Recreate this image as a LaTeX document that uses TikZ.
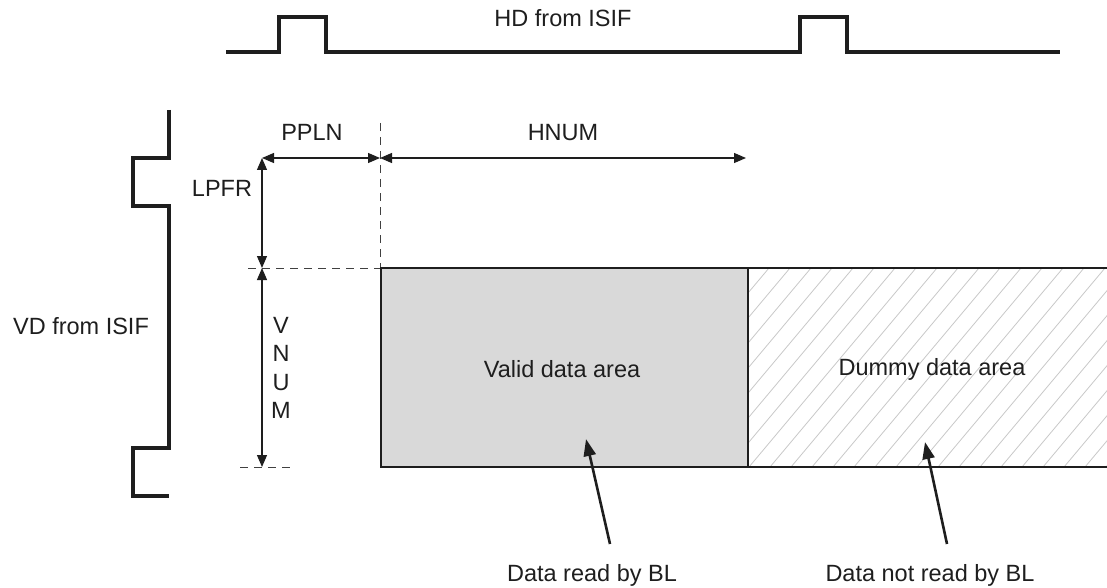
\documentclass[tikz,border=0pt]{standalone}
\usepackage{fontspec}
\setmainfont{Liberation Sans}
\usetikzlibrary{arrows.meta}
\definecolor{inkgray}{RGB}{30,30,30}
\definecolor{validgray}{RGB}{217,217,217}
\definecolor{hatchgray}{RGB}{200,200,200}
\tikzset{
  lbl/.style={font=\fontsize{23.5}{28.5}\selectfont, text=inkgray, inner sep=0pt, text height=16.8pt, text depth=0pt},
  stacklbl/.style={font=\fontsize{23.5}{28.3}\selectfont, text=inkgray, inner sep=0pt, align=center},
  sig/.style={line width=4.5pt, inkgray, line join=miter},
  dimline/.style={{Triangle[length=12pt,width=10pt]}-{Triangle[length=12pt,width=10pt]}, line width=1.2pt, inkgray},
  guide/.style={dash pattern=on 8pt off 6pt, line width=1pt, black!75},
  callout/.style={-{Triangle[length=17pt,width=12pt]}, line width=2.6pt, inkgray},
  area/.style={line width=2.6pt, inkgray},
  hatch/.style={line width=0.8pt, hatchgray}
}
\begin{document}
\begin{tikzpicture}[x=1pt,y=-1pt]
  \useasboundingbox (0,0) rectangle (1107,588);

  %--- HD from ISIF ---
  \draw[sig] (226,52) -- (279,52) -- (279,17) -- (326,17) -- (326,52) -- (800,52) -- (800,17) -- (847,17) -- (847,52) -- (1060,52);
  \node[lbl] (hdlbl) at (563,18) {HD from ISIF};

  %--- VD from ISIF ---
  \draw[sig] (169,110) -- (169,158) -- (133,158) -- (133,206) -- (169,206) -- (169,448) -- (133,448) -- (133,496) -- (169,496);
  \node[lbl] (vdlbl) at (81,326) {VD from ISIF};

  % Corner points of the frame
  \coordinate (corner) at (262,158);
  \coordinate (hstart) at (380,158);
  \coordinate (hend) at (746,158);
  \coordinate (vstart) at (262,268);
  \coordinate (vend) at (262,467);

  % Guide lines
  \draw[guide] (380,123) -- (380,268);
  \draw[guide] (248,268) -- (380,268);
  \draw[guide] (240,467) -- (290,467);

  % Dimensions
  \draw[dimline] (corner) -- (hstart);
  \draw[dimline] (hstart) -- (hend);
  \draw[dimline] (corner) -- (vstart);
  \draw[dimline] (vstart) -- (vend);
  \node[lbl] (ppln) at (312,132) {PPLN};
  \node[lbl] (hnum) at (563,132) {HNUM};
  \node[lbl] (lpfr) at (222,188) {LPFR};
  \node[stacklbl] (vnum) at (281,368) {V\\N\\U\\M};

  %--- Data areas ---
  \fill[validgray] (381,268) rectangle (748,467);
  \begin{scope}
    \clip (748,268) rectangle (1107,467);
    \foreach \k in {0,...,26} {
      \draw[hatch] (581+\k*21,467) -- ++(167,-199);
    }
  \end{scope}
  \draw[area] (1107,268) -- (381,268) -- (381,467) -- (1107,467);
  \draw[area] (748,268) -- (748,467);
  \node[lbl] (valid) at (562,369) {Valid data area};
  \node[lbl] (dummy) at (932,367) {Dummy data area};

  %--- Read by BL ---
  \node[lbl] (readlbl) at (592,573) {Data read by BL};
  \node[lbl] (notreadlbl) at (930,573) {Data not read by BL};
  \coordinate (readtail) at (610,544);
  \coordinate (readhead) at (586,439);
  \coordinate (notreadtail) at (947,544);
  \coordinate (notreadhead) at (925,442);
  \draw[callout] (readtail) -- (readhead);
  \draw[callout] (notreadtail) -- (notreadhead);
\end{tikzpicture}
\end{document}
